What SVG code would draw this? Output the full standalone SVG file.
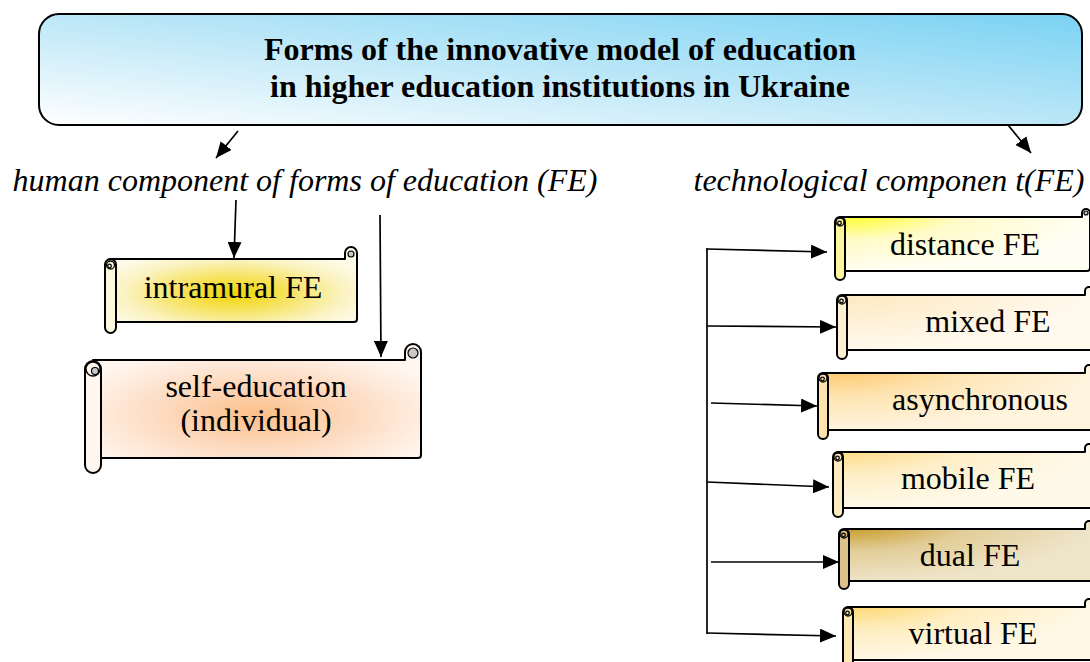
<svg xmlns="http://www.w3.org/2000/svg" width="1090" height="662" viewBox="0 0 1090 662">
<style>
text{font-family:"Liberation Serif","Times New Roman",serif;font-size:32px;fill:#000;text-anchor:middle}
.title{font-weight:bold}
.it{font-style:italic}
.sc{stroke:#000;stroke-width:2;stroke-linejoin:round}
.cu{stroke:#000;stroke-width:1.3;fill:none}
.cg{stroke:#000;stroke-width:1.2;fill:#c8c8c8}
.ln{stroke:#000;stroke-width:1.7;fill:none}
.ar{marker-end:url(#ah)}
</style>
<defs>
<marker id="ah" markerWidth="17" markerHeight="14" refX="16" refY="7" orient="auto" markerUnits="userSpaceOnUse"><path d="M0,0 L16,7 L0,14 Z" fill="#000"/></marker>
<linearGradient id="gTitle" x1="0" y1="1" x2="1" y2="0"><stop offset="0" stop-color="#ffffff"/><stop offset="0.45" stop-color="#c2e9f8"/><stop offset="1" stop-color="#7ad2f3"/></linearGradient>
<radialGradient id="gIntra" cx="0.5" cy="0.62" r="0.6"><stop offset="0" stop-color="#f0d400"/><stop offset="0.35" stop-color="#f6e25a"/><stop offset="0.75" stop-color="#fbf3c4"/><stop offset="1" stop-color="#fdfbe8"/></radialGradient>
<radialGradient id="gSelf" cx="0.5" cy="0.62" r="0.6"><stop offset="0" stop-color="#fcbf8a"/><stop offset="0.45" stop-color="#fdd8bb"/><stop offset="1" stop-color="#fff6f0"/></radialGradient>
<radialGradient id="gDist" cx="0" cy="0" r="1"><stop offset="0" stop-color="#ffff00"/><stop offset="0.5" stop-color="#fffbc8"/><stop offset="1" stop-color="#fffef2"/></radialGradient>
<radialGradient id="gMix" cx="0" cy="0" r="1"><stop offset="0" stop-color="#fde7bb"/><stop offset="1" stop-color="#fff9ee"/></radialGradient>
<radialGradient id="gAsy" cx="0" cy="0" r="1"><stop offset="0" stop-color="#fdc35c"/><stop offset="0.5" stop-color="#fee4b2"/><stop offset="1" stop-color="#fff4de"/></radialGradient>
<radialGradient id="gMob" cx="0" cy="0" r="1"><stop offset="0" stop-color="#fdd676"/><stop offset="0.5" stop-color="#feefc8"/><stop offset="1" stop-color="#fff9ea"/></radialGradient>
<radialGradient id="gDual" cx="0" cy="0" r="1"><stop offset="0" stop-color="#c18f0a"/><stop offset="0.5" stop-color="#e2cd98"/><stop offset="1" stop-color="#eee4c8"/></radialGradient>
<radialGradient id="gVirt" cx="0" cy="0" r="1"><stop offset="0" stop-color="#fdd35a"/><stop offset="0.5" stop-color="#feedc0"/><stop offset="1" stop-color="#fff8e6"/></radialGradient>
</defs>

<g id="title">
<rect x="39" y="14" width="1043" height="111" rx="20" fill="url(#gTitle)" stroke="#000" stroke-width="2"/>
<text class="title" x="560" y="60">Forms of the innovative model of education</text>
<text class="title" x="560" y="97">in higher education institutions in Ukraine</text>
</g>

<g id="human-label"><text class="it" x="305" y="191">human component of forms of education (FE)</text></g>
<g id="tech-label"><text class="it" x="889" y="191">technological componen t(FE)</text></g>

<g id="intramural">
<path class="sc" fill="url(#gIntra)" d="M110 259 H345 V253 A6 6 0 0 1 357 253 V319 Q357 322 354 322 H110 Z"/>
<circle class="cg" cx="351" cy="254" r="3" fill="#e8e8e8"/>
<rect class="sc" x="105" y="259" width="11" height="74" rx="5.5" fill="#fcf8dc"/>
<circle class="cu" cx="110.5" cy="265" r="4"/>
<circle class="cu" cx="109.5" cy="266" r="1.8"/>
<text x="233" y="298">intramural FE</text>
</g>

<g id="self-education">
<path class="sc" fill="url(#gSelf)" d="M93 360 H405 V352 A8 8 0 0 1 421 352 V455 Q421 458 418 458 H93 Z"/>
<circle class="cg" cx="413" cy="353" r="5"/>
<rect class="sc" x="85" y="361" width="16" height="112" rx="8" fill="#fff6f0"/>
<circle class="cu" cx="93" cy="369" r="7"/>
<circle class="cg" cx="95" cy="371" r="3.5"/>
<text x="256" y="397">self-education</text>
<text x="256" y="431">(individual)</text>
</g>

<g id="distance">
<path class="sc" fill="url(#gDist)" d="M840 217 H1082 V213 A4 4 0 0 1 1090 213 V268 Q1090 271 1087 271 H840 Z"/>
<circle class="cg" cx="1086" cy="213" r="2"/>
<rect class="sc" x="835" y="217" width="10" height="63" rx="5" fill="#fdf6a0"/>
<circle class="cu" cx="840" cy="222" r="4"/>
<circle class="cu" cx="839.5" cy="223" r="1.8"/>
<text x="965" y="255">distance FE</text>
</g>

<g id="mixed">
<path class="sc" fill="url(#gMix)" d="M842 295 H1085 V291 A4 4 0 0 1 1093 291 V347 Q1093 350 1090 350 H842 Z"/>
<rect class="sc" x="837" y="295" width="10" height="64" rx="5" fill="#fdf0d2"/>
<circle class="cu" cx="842" cy="300" r="4"/>
<circle class="cu" cx="841.5" cy="301" r="1.8"/>
<text x="988" y="332">mixed FE</text>
</g>

<g id="asynchronous">
<path class="sc" fill="url(#gAsy)" d="M823 373 H1085 V369 A4 4 0 0 1 1093 369 V427 Q1093 430 1090 430 H823 Z"/>
<rect class="sc" x="818" y="373" width="10" height="66" rx="5" fill="#fde2ac"/>
<circle class="cu" cx="823" cy="378" r="4"/>
<circle class="cu" cx="822.5" cy="379" r="1.8"/>
<text x="980" y="410">asynchronous</text>
</g>

<g id="mobile">
<path class="sc" fill="url(#gMob)" d="M838 452 H1085 V448 A4 4 0 0 1 1093 448 V505 Q1093 508 1090 508 H838 Z"/>
<rect class="sc" x="833" y="452" width="10" height="65" rx="5" fill="#fdecc0"/>
<circle class="cu" cx="838" cy="457" r="4"/>
<circle class="cu" cx="837.5" cy="458" r="1.8"/>
<text x="968" y="489">mobile FE</text>
</g>

<g id="dual">
<path class="sc" fill="url(#gDual)" d="M844 529 H1085 V525 A4 4 0 0 1 1093 525 V578 Q1093 581 1090 581 H844 Z"/>
<rect class="sc" x="839" y="529" width="10" height="60" rx="5" fill="#dcc28a"/>
<circle class="cu" cx="844" cy="534" r="4"/>
<circle class="cu" cx="843.5" cy="535" r="1.8"/>
<text x="970" y="566">dual FE</text>
</g>

<g id="virtual">
<path class="sc" fill="url(#gVirt)" d="M848 607 H1085 V603 A4 4 0 0 1 1093 603 V657 Q1093 660 1090 660 H848 Z"/>
<rect class="sc" x="843" y="607" width="10" height="62" rx="5" fill="#fde8b4"/>
<circle class="cu" cx="848" cy="612" r="4"/>
<circle class="cu" cx="847.5" cy="613" r="1.8"/>
<text x="973" y="644">virtual FE</text>
</g>

<g id="connectors">
<line class="ln ar" x1="238" y1="131" x2="216" y2="158"/>
<line class="ln ar" x1="1008" y1="125" x2="1031" y2="153"/>
<line class="ln ar" x1="236" y1="200" x2="234" y2="258"/>
<line class="ln ar" x1="380" y1="215" x2="381" y2="357"/>
<line class="ln" x1="707" y1="248" x2="707" y2="634"/>
<line class="ln ar" x1="707" y1="249" x2="827" y2="252"/>
<line class="ln ar" x1="707" y1="326" x2="836" y2="327"/>
<line class="ln ar" x1="711" y1="403" x2="817" y2="406"/>
<line class="ln ar" x1="707" y1="482" x2="829" y2="487"/>
<line class="ln ar" x1="711" y1="562" x2="839" y2="562"/>
<line class="ln ar" x1="707" y1="633" x2="836" y2="636"/>
</g>
</svg>
